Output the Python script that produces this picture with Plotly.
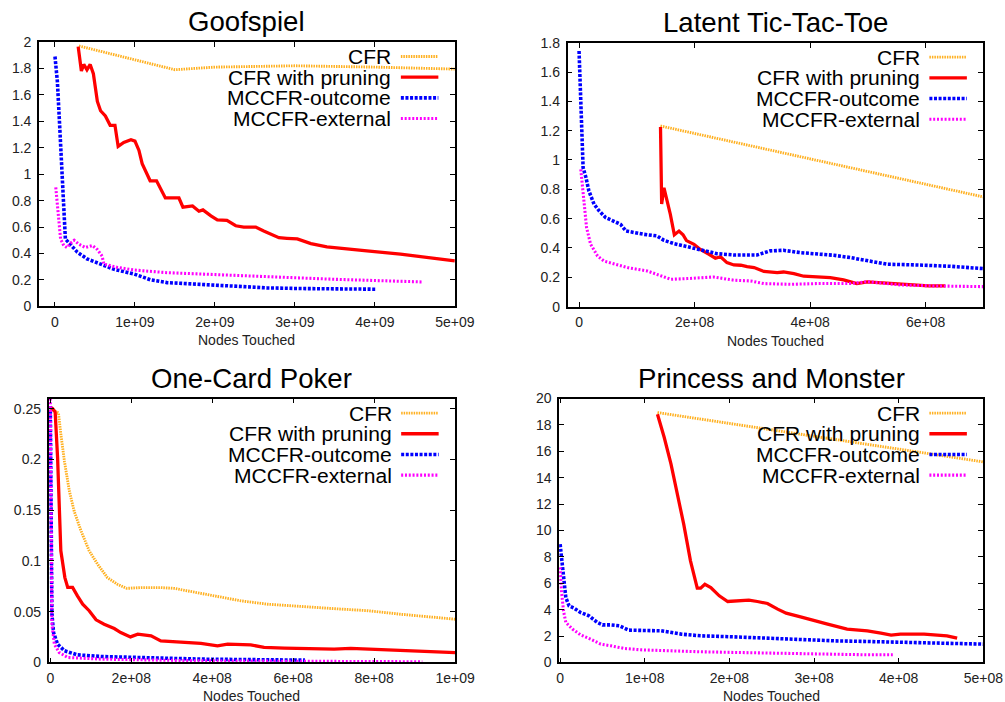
import plotly.graph_objects as go

# ---------------- data ----------------
# Goofspiel
g_cfr_x = [0.3e9, 1.5e9, 2.0e9, 3.0e9, 4.0e9, 5.0e9]
g_cfr_y = [1.97, 1.79, 1.81, 1.82, 1.81, 1.795]
g_prn_x = [0.29e9, 0.33e9, 0.36e9, 0.40e9, 0.44e9, 0.48e9, 0.53e9, 0.57e9, 0.63e9, 0.69e9, 0.75e9, 0.79e9,
           0.86e9, 0.95e9, 1.0e9, 1.05e9, 1.09e9, 1.19e9, 1.27e9, 1.31e9, 1.38e9, 1.49e9, 1.55e9, 1.60e9,
           1.72e9, 1.80e9, 1.85e9, 1.95e9, 2.03e9, 2.15e9, 2.26e9, 2.36e9, 2.51e9, 2.61e9, 2.80e9, 2.90e9,
           3.03e9, 3.20e9, 3.40e9, 3.90e9, 4.32e9, 5.0e9]
g_prn_y = [1.965, 1.78, 1.83, 1.79, 1.83, 1.76, 1.55, 1.48, 1.44, 1.37, 1.37, 1.21,
           1.24, 1.26, 1.25, 1.18, 1.08, 0.95, 0.95, 0.90, 0.82, 0.82, 0.82, 0.75,
           0.76, 0.72, 0.73, 0.685, 0.655, 0.65, 0.61, 0.60, 0.60, 0.57, 0.52, 0.515,
           0.51, 0.475, 0.45, 0.42, 0.395, 0.345]
g_out_x = [0.0, 0.03e9, 0.06e9, 0.09e9, 0.11e9, 0.13e9, 0.175e9, 0.28e9, 0.40e9, 0.57e9, 0.74e9, 0.99e9,
           1.20e9, 1.40e9, 1.82e9, 2.24e9, 2.65e9, 3.07e9, 4.01e9]
g_out_y = [1.89, 1.70, 1.35, 0.95, 0.67, 0.51, 0.48, 0.41, 0.36, 0.32, 0.28, 0.245,
           0.20, 0.18, 0.165, 0.15, 0.14, 0.135, 0.13]
g_ext_x = [0.01e9, 0.03e9, 0.05e9, 0.07e9, 0.11e9, 0.15e9, 0.20e9, 0.24e9, 0.30e9, 0.38e9, 0.47e9, 0.53e9,
           0.59e9, 0.61e9, 0.78e9, 0.99e9, 1.40e9, 1.82e9, 2.65e9, 3.49e9, 4.59e9]
g_ext_y = [0.90, 0.75, 0.60, 0.51, 0.46, 0.445, 0.48, 0.50, 0.47, 0.445, 0.46, 0.43,
           0.38, 0.32, 0.295, 0.275, 0.255, 0.245, 0.225, 0.205, 0.185]

# Latent Tic-Tac-Toe
l_cfr_x = [1.41e8, 7.0e8]
l_cfr_y = [1.232, 0.748]
l_prn_x = [1.41e8, 1.42e8, 1.43e8, 1.47e8, 1.53e8, 1.58e8, 1.65e8, 1.73e8, 1.80e8, 1.86e8, 1.99e8, 2.10e8,
           2.25e8, 2.36e8, 2.45e8, 2.56e8, 2.68e8, 2.80e8, 2.91e8, 3.03e8, 3.20e8, 3.43e8, 3.54e8, 3.72e8,
           3.89e8, 4.18e8, 4.35e8, 4.58e8, 4.81e8, 4.99e8, 5.27e8, 5.56e8, 5.85e8, 6.05e8, 6.34e8]
l_prn_y = [1.225, 0.99, 0.70, 0.81, 0.72, 0.63, 0.49, 0.515, 0.49, 0.45, 0.425, 0.39,
           0.357, 0.33, 0.34, 0.30, 0.284, 0.282, 0.273, 0.266, 0.24, 0.232, 0.236, 0.225,
           0.207, 0.202, 0.198, 0.182, 0.157, 0.168, 0.161, 0.152, 0.148, 0.141, 0.141]
l_out_x = [0.0, 0.02e8, 0.04e8, 0.07e8, 0.12e8, 0.17e8, 0.26e8, 0.35e8, 0.46e8, 0.61e8, 0.72e8, 0.81e8,
           0.95e8, 1.12e8, 1.35e8, 1.47e8, 1.64e8, 1.87e8, 2.10e8, 2.39e8, 2.68e8, 3.08e8, 3.31e8, 3.54e8,
           3.83e8, 4.41e8, 4.70e8, 4.99e8, 5.33e8, 5.85e8, 6.43e8, 7.0e8]
l_out_y = [1.743, 1.516, 1.175, 0.948, 0.88, 0.789, 0.698, 0.652, 0.607, 0.584, 0.561, 0.516,
           0.505, 0.493, 0.482, 0.452, 0.43, 0.407, 0.384, 0.361, 0.352, 0.352, 0.380, 0.384,
           0.368, 0.35, 0.334, 0.316, 0.289, 0.284, 0.275, 0.259]
l_ext_x = [0.03e8, 0.06e8, 0.09e8, 0.13e8, 0.20e8, 0.32e8, 0.43e8, 0.61e8, 0.84e8, 1.18e8, 1.41e8, 1.59e8,
           1.87e8, 2.10e8, 2.33e8, 2.68e8, 2.97e8, 3.20e8, 3.66e8, 4.12e8, 4.70e8, 4.99e8, 5.56e8, 6.14e8, 7.0e8]
l_ext_y = [0.936, 0.811, 0.675, 0.539, 0.425, 0.345, 0.311, 0.289, 0.266, 0.243, 0.209, 0.186,
           0.191, 0.198, 0.202, 0.18, 0.175, 0.157, 0.152, 0.157, 0.157, 0.17, 0.148, 0.141, 0.136]

# One-Card Poker
o_cfr_x = [0.0, 0.14e8, 0.2e8, 0.26e8, 0.35e8, 0.47e8, 0.59e8, 0.76e8, 0.96e8, 1.17e8, 1.41e8, 1.66e8,
           1.89e8, 2.24e8, 2.73e8, 3.06e8, 3.39e8, 4.05e8, 4.71e8, 5.37e8, 6.19e8, 7.01e8, 7.84e8, 8.66e8, 10.0e8]
o_cfr_y = [0.25, 0.2475, 0.246, 0.225, 0.198, 0.169, 0.149, 0.1295, 0.11, 0.0967, 0.0836, 0.077,
           0.073, 0.0738, 0.0738, 0.073, 0.0705, 0.0656, 0.0607, 0.0574, 0.055, 0.053, 0.051, 0.0475, 0.0426]
o_prn_x = [0.0, 0.06e8, 0.12e8, 0.18e8, 0.26e8, 0.36e8, 0.43e8, 0.55e8, 0.67e8, 0.80e8, 0.96e8, 1.13e8,
           1.33e8, 1.58e8, 1.74e8, 1.98e8, 2.16e8, 2.49e8, 2.73e8, 3.23e8, 3.72e8, 4.13e8, 4.38e8, 4.95e8,
           5.28e8, 5.78e8, 7.01e8, 7.42e8, 8.66e8, 10.0e8]
o_prn_y = [0.2515, 0.25, 0.2466, 0.2016, 0.11, 0.0836, 0.074, 0.074, 0.0656, 0.0574, 0.051, 0.042,
           0.0377, 0.0334, 0.0295, 0.0252, 0.0279, 0.0262, 0.0213, 0.0197, 0.0187, 0.0164, 0.018, 0.0174,
           0.0148, 0.0141, 0.0131, 0.0138, 0.0121, 0.0098]
o_out_x = [0.0, 0.016e8, 0.04e8, 0.08e8, 0.18e8, 0.35e8, 0.67e8, 1.25e8, 2.07e8, 3.72e8, 6.29e8]
o_out_y = [0.2525, 0.077, 0.0475, 0.0295, 0.018, 0.0115, 0.0075, 0.0059, 0.0049, 0.0033, 0.0023]
o_ext_x = [0.0, 0.016e8, 0.04e8, 0.1e8, 0.22e8, 0.43e8, 1.25e8, 3.72e8, 6.19e8, 9.19e8]
o_ext_y = [0.26, 0.11, 0.0377, 0.018, 0.0098, 0.0049, 0.0033, 0.0016, 0.001, 0.0007]

# Princess and Monster
p_cfr_x = [1.15e8, 5.0e8]
p_cfr_y = [18.94, 15.2]
p_prn_x = [1.15e8, 1.23e8, 1.31e8, 1.39e8, 1.46e8, 1.54e8, 1.62e8, 1.66e8, 1.71e8, 1.78e8, 1.88e8, 1.98e8,
           2.13e8, 2.23e8, 2.33e8, 2.45e8, 2.57e8, 2.67e8, 2.84e8, 3.0e8, 3.16e8, 3.39e8, 3.63e8, 3.79e8,
           3.91e8, 4.02e8, 4.30e8, 4.57e8, 4.69e8]
p_prn_y = [18.81, 17.05, 15.03, 12.75, 10.48, 7.70, 5.63, 5.63, 5.93, 5.68, 5.05, 4.62,
           4.67, 4.72, 4.62, 4.47, 4.04, 3.74, 3.46, 3.21, 2.90, 2.53, 2.40, 2.22,
           2.07, 2.15, 2.15, 2.02, 1.84]
p_out_x = [0.0, 0.016e8, 0.04e8, 0.067e8, 0.106e8, 0.165e8, 0.24e8, 0.34e8, 0.44e8, 0.5e8, 0.6e8, 0.70e8,
           0.81e8, 0.95e8, 1.19e8, 1.43e8, 1.66e8, 2.06e8, 2.45e8, 2.84e8, 3.24e8, 3.63e8, 4.02e8, 4.42e8, 5.0e8]
p_out_y = [8.96, 7.95, 6.19, 4.92, 4.29, 4.12, 3.79, 3.54, 3.03, 2.85, 2.85, 2.78,
           2.45, 2.45, 2.40, 2.15, 2.02, 1.94, 1.84, 1.72, 1.64, 1.59, 1.52, 1.46, 1.39]
p_ext_x = [0.0, 0.016e8, 0.04e8, 0.067e8, 0.146e8, 0.24e8, 0.36e8, 0.48e8, 0.60e8, 0.76e8, 0.95e8, 1.27e8,
           1.66e8, 2.06e8, 2.45e8, 2.84e8, 3.24e8, 3.63e8, 3.93e8]
p_ext_y = [7.2, 5.43, 3.91, 3.03, 2.53, 2.10, 1.77, 1.39, 1.26, 1.06, 0.96, 0.88,
           0.81, 0.76, 0.71, 0.68, 0.63, 0.58, 0.58]

series_names = ["CFR", "CFR with pruning", "MCCFR-outcome", "MCCFR-external"]
titles = ["Goofspiel", "Latent Tic-Tac-Toe", "One-Card Poker", "Princess and Monster"]
x_title = "Nodes Touched"

g_xticks = [0, 1e9, 2e9, 3e9, 4e9, 5e9]
g_xlabels = ["0", "1e+09", "2e+09", "3e+09", "4e+09", "5e+09"]
g_yticks = [0, 0.2, 0.4, 0.6, 0.8, 1.0, 1.2, 1.4, 1.6, 1.8, 2.0]
g_ylabels = ["0", "0.2", "0.4", "0.6", "0.8", "1", "1.2", "1.4", "1.6", "1.8", "2"]
l_xticks = [0, 2e8, 4e8, 6e8]
l_xlabels = ["0", "2e+08", "4e+08", "6e+08"]
l_yticks = [0, 0.2, 0.4, 0.6, 0.8, 1.0, 1.2, 1.4, 1.6, 1.8]
l_ylabels = ["0", "0.2", "0.4", "0.6", "0.8", "1", "1.2", "1.4", "1.6", "1.8"]
o_xticks = [0, 2e8, 4e8, 6e8, 8e8, 1e9]
o_xlabels = ["0", "2e+08", "4e+08", "6e+08", "8e+08", "1e+09"]
o_yticks = [0, 0.05, 0.1, 0.15, 0.2, 0.25]
o_ylabels = ["0", "0.05", "0.1", "0.15", "0.2", "0.25"]
p_xticks = [0, 1e8, 2e8, 3e8, 4e8, 5e8]
p_xlabels = ["0", "1e+08", "2e+08", "3e+08", "4e+08", "5e+08"]
p_yticks = [0, 2, 4, 6, 8, 10, 12, 14, 16, 18, 20]
p_ylabels = ["0", "2", "4", "6", "8", "10", "12", "14", "16", "18", "20"]

# ---------------- styling ----------------
FIG_W, FIG_H = 1030, 716
SC, OX, OY = 0.978, 2.0, 7.0   # compensation for how the page is photographed
FONT = "Liberation Sans, Arial, Helvetica, sans-serif"


def fs(v):
    return v / SC


def px(x):
    return ((x - OX) / SC) / FIG_W


def py(y):
    return 1 - ((y - OY) / SC) / FIG_H


styles = [
    dict(color="#FFB020", width=fs(2.8), dash="1.5px,1px"),
    dict(color="#FF0000", width=fs(3.2), dash="solid"),
    dict(color="#0000FF", width=fs(3.5), dash="3px,1.6px"),
    dict(color="#FF00FF", width=fs(3.0), dash="2px,1.8px"),
]

panels = [
    dict(data=[(g_cfr_x, g_cfr_y), (g_prn_x, g_prn_y), (g_out_x, g_out_y), (g_ext_x, g_ext_y)],
         box=(38, 454, 41, 305.5), xr=[-2e8, 5e9], yr=[0, 2],
         xt=(g_xticks, g_xlabels), yt=(g_yticks, g_ylabels)),
    dict(data=[(l_cfr_x, l_cfr_y), (l_prn_x, l_prn_y), (l_out_x, l_out_y), (l_ext_x, l_ext_y)],
         box=(566.7, 982.7, 41.7, 305.7), xr=[-2e7, 7e8], yr=[0, 1.8],
         xt=(l_xticks, l_xlabels), yt=(l_yticks, l_ylabels)),
    dict(data=[(o_cfr_x, o_cfr_y), (o_prn_x, o_prn_y), (o_out_x, o_out_y), (o_ext_x, o_ext_y)],
         box=(47.7, 454.3, 397.7, 661.7), xr=[-4e6, 1e9], yr=[0, 0.26],
         xt=(o_xticks, o_xlabels), yt=(o_yticks, o_ylabels)),
    dict(data=[(p_cfr_x, p_cfr_y), (p_prn_x, p_prn_y), (p_out_x, p_out_y), (p_ext_x, p_ext_y)],
         box=(558.3, 982.7, 397.7, 661.7), xr=[-1.2e6, 5e8], yr=[0, 20],
         xt=(p_xticks, p_xlabels), yt=(p_yticks, p_ylabels)),
]

fig = go.Figure()
annotations = []
shapes = []
layout = {}

for i, p in enumerate(panels):
    n = "" if i == 0 else str(i + 1)
    x0, x1, y0, y1 = p["box"]
    for (xs, ys), st, name in zip(p["data"], styles, series_names):
        fig.add_trace(go.Scatter(x=xs, y=ys, mode="lines", name=name, showlegend=False,
                                 line=dict(color=st["color"], width=st["width"], dash=st["dash"]),
                                 xaxis="x" + n, yaxis="y" + n))
    common = dict(showgrid=False, zeroline=False, showline=True, linecolor="black", linewidth=fs(1.5),
                  mirror="ticks", ticks="inside", ticklen=fs(5), tickwidth=1, tickcolor="black",
                  tickfont=dict(family=FONT, size=fs(13.7), color="#222"))
    layout["xaxis" + n] = dict(common, domain=[px(x0), px(x1)], range=p["xr"], anchor="y" + n,
                               tickmode="array", tickvals=p["xt"][0], ticktext=p["xt"][1],
                               ticklabelstandoff=2)
    layout["yaxis" + n] = dict(common, domain=[py(y1), py(y0)], range=p["yr"], anchor="x" + n,
                               tickmode="array", tickvals=p["yt"][0], ticktext=p["yt"][1],
                               ticklabelstandoff=3)
    cx = px((x0 + x1) / 2)
    annotations.append(dict(text=titles[i], x=cx, y=py(y0 - 20), xref="paper", yref="paper",
                            xanchor="center", yanchor="middle", showarrow=False,
                            font=dict(family=FONT, size=fs(27), color="black")))
    annotations.append(dict(text=x_title, x=cx, y=py(y1 + 34), xref="paper", yref="paper",
                            xanchor="center", yanchor="middle", showarrow=False,
                            font=dict(family=FONT, size=fs(13.7), color="#222")))
    for k, (st, name) in enumerate(zip(styles, series_names)):
        ly = y0 + 14.5 + k * 20.7
        annotations.append(dict(text=name, x=px(x1 - 62.5), y=py(ly), xref="paper", yref="paper",
                                xanchor="right", yanchor="middle", showarrow=False, borderpad=0,
                                font=dict(family=FONT, size=fs(20.6), color="black")))
        shapes.append(dict(type="line", xref="paper", yref="paper",
                           x0=px(x1 - 54), x1=px(x1 - 16.5), y0=py(ly), y1=py(ly),
                           line=dict(color=st["color"], width=st["width"], dash=st["dash"])))

fig.update_layout(width=FIG_W, height=FIG_H, margin=dict(l=0, r=0, t=0, b=0),
                  paper_bgcolor="white", plot_bgcolor="white",
                  annotations=annotations, shapes=shapes, showlegend=False, **layout)

fig.write_html("out.html", config={"displayModeBar": False},
               post_script="document.body.style.margin='0';document.documentElement.style.overflow='hidden';document.body.style.overflow='hidden';")
